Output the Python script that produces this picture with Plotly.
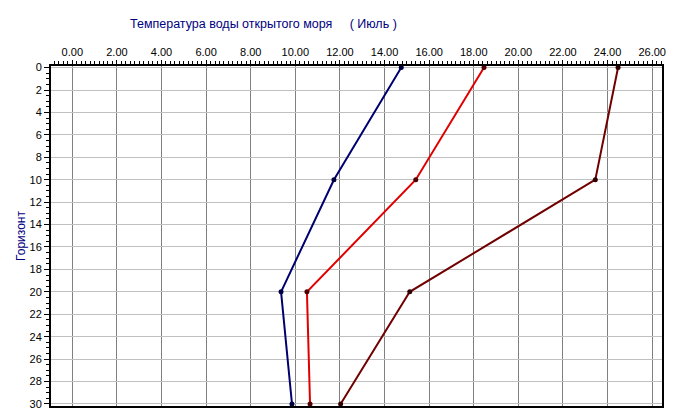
import plotly.graph_objects as go

depths = [0, 10, 20, 30]
series_blue = [14.75, 11.73, 9.36, 9.85]
series_red = [18.46, 15.40, 10.52, 10.66]
series_maroon = [24.47, 23.45, 15.13, 12.03]
x_ticks = [0, 2, 4, 6, 8, 10, 12, 14, 16, 18, 20, 22, 24, 26]
y_ticks = list(range(0, 31, 2))

title_text = "Температура воды открытого моря" + "\u00a0" * 5 + "( Июль )"
font_narrow = "Liberation Sans Narrow, Arial Narrow, Liberation Sans, Arial, sans-serif"

fig = go.Figure()
for vals, lc, mc in [
    (series_blue, "#000070", "#000040"),
    (series_red, "#e00000", "#500000"),
    (series_maroon, "#700000", "#300000"),
]:
    fig.add_trace(go.Scatter(
        x=vals, y=depths, mode="lines+markers",
        line=dict(color=lc, width=2),
        marker=dict(color=mc, size=5),
        showlegend=False,
    ))

fig.update_layout(
    width=675, height=419,
    margin=dict(l=51, r=13, t=66, b=13, autoexpand=False),
    paper_bgcolor="white", plot_bgcolor="white",
    font=dict(family=font_narrow, size=11, color="black"),
    title=dict(text=title_text, x=130 / 675, xanchor="left", y=1 - 23.5 / 419, yanchor="middle",
               automargin=False,
               font=dict(family="Liberation Sans, Arial, sans-serif", size=12.5, color="#000080")),
    xaxis=dict(
        side="top", range=[-0.955, 26.44], tickvals=x_ticks,
        ticktext=[f"{v:.2f}" for v in x_ticks], automargin=False,
        showgrid=True, gridcolor="#808080", gridwidth=1,
        showline=True, linecolor="black", linewidth=2, mirror=True,
        ticks="outside", ticklen=4, tickcolor="black",
        minor=dict(dtick=0.2, ticks="outside", ticklen=3, tickcolor="black", showgrid=False),
        zeroline=False,
    ),
    yaxis=dict(
        range=[30.18, -0.14], tickvals=y_ticks, automargin=False,
        showgrid=True, gridcolor="#c0c0c0", gridwidth=1,
        showline=True, linecolor="black", linewidth=2, mirror=True,
        ticks="outside", ticklen=5, tickcolor="black",
        minor=dict(dtick=0.5, ticks="outside", ticklen=3, tickcolor="black", showgrid=False),
        zeroline=False,
        title=dict(text="Горизонт", font=dict(family="Liberation Sans, Arial, sans-serif", size=12, color="#000080"), standoff=1),
    ),
)

fig.write_html("out.html", config={"displayModeBar": False},
               post_script="document.body.style.margin='0';document.body.style.overflow='hidden';")
